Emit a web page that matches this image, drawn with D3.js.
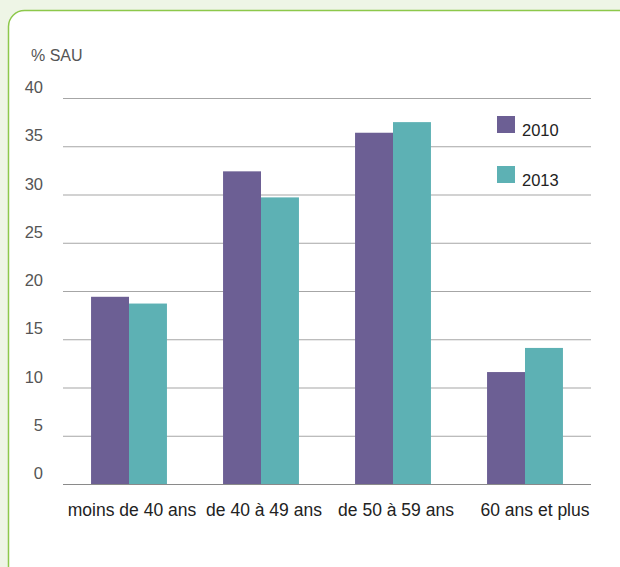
<!DOCTYPE html>
<html>
<head>
<meta charset="utf-8">
<script src="https://cdn.jsdelivr.net/npm/d3@7"></script>
<style>
  body { margin: 0; background: #eef5e6; }
  svg { display: block; font-family: 'Liberation Sans', Arial, sans-serif; }
</style>
</head>
<body>
<div class="chart"></div>
<script>
const categories = ['moins de 40 ans', 'de 40 à 49 ans', 'de 50 à 59 ans', '60 ans et plus'];
const years = ['2010', '2013'];
const values2010 = [19.4, 32.4, 36.4, 11.6];
const values2013 = [18.7, 29.7, 37.5, 14.1];
const yTicks = [0, 5, 10, 15, 20, 25, 30, 35, 40];
const colors = ['#6c5f94', '#5db1b4'];

const width = 620;
const height = 567;
const margin = { top: 98, right: 29, bottom: 83, left: 63 };
const innerW = width - margin.left - margin.right;
const innerH = height - margin.top - margin.bottom;

const svg = d3.select('.chart').append('svg')
    .attr('width', width)
    .attr('height', height);

// white card with green rounded border
svg.append('rect')
    .attr('x', 8.5)
    .attr('y', 10.5)
    .attr('width', 640)
    .attr('height', 600)
    .attr('rx', 16)
    .attr('fill', '#fff')
    .attr('stroke', '#8dc84b')
    .attr('stroke-width', 1.5);

const g = svg.append('g')
    .attr('transform', `translate(${margin.left}, ${margin.top})`);

const x0 = d3.scaleBand().domain(categories).range([0, innerW]).paddingInner(0.425).paddingOuter(0.2125);
const x1 = d3.scaleBand().domain(years).range([0, x0.bandwidth()]);
const y = d3.scaleLinear().domain([0, 40]).range([innerH, 0]);

// grid
g.selectAll('.grid')
    .data(yTicks)
  .enter().append('line')
    .attr('x1', 0)
    .attr('x2', innerW)
    .attr('y1', d => y(d) + 0.5)
    .attr('y2', d => y(d) + 0.5)
    .attr('stroke', d => d === 0 ? '#8a8a8a' : '#a6a6a6')
    .attr('stroke-width', 1.2);

// y labels
g.selectAll('.ylab')
    .data(yTicks)
  .enter().append('text')
    .attr('x', -20)
    .attr('y', d => y(d) - 5)
    .attr('text-anchor', 'end')
    .attr('font-size', 16.5)
    .attr('fill', '#555')
    .text(d => d);

svg.append('text')
    .attr('x', 31)
    .attr('y', 61)
    .attr('font-size', 16)
    .attr('fill', '#555')
    .text('% SAU');

const rows = categories.map((c, i) => ({ cat: c, vals: [values2010[i], values2013[i]] }));

const groups = g.selectAll('.grp')
    .data(rows)
  .enter().append('g')
    .attr('transform', d => `translate(${x0(d.cat)}, 0)`);

groups.selectAll('rect')
    .data(d => d.vals.map((v, k) => ({ year: years[k], v: v, k: k })))
  .enter().append('rect')
    .attr('x', d => x1(d.year))
    .attr('width', x1.bandwidth())
    .attr('y', d => y(d.v))
    .attr('height', d => innerH - y(d.v))
    .attr('fill', d => colors[d.k]);

// x labels, nudged a little right like the original
g.selectAll('.xlab')
    .data(categories)
  .enter().append('text')
    .attr('x', (d, i) => x0(d) + x0.bandwidth() / 2 + (i === 3 ? 10 : 3))
    .attr('y', innerH + 32)
    .attr('text-anchor', 'middle')
    .attr('font-size', 17.5)
    .attr('fill', '#222')
    .text(d => d);

// legend
const legend = svg.selectAll('.leg')
    .data(years)
  .enter().append('g')
    .attr('transform', (d, i) => `translate(497, ${116 + i * 50})`);

legend.append('rect')
    .attr('width', 18)
    .attr('height', 17)
    .attr('fill', (d, i) => colors[i]);

legend.append('text')
    .attr('x', 25)
    .attr('y', 20)
    .attr('font-size', 16.5)
    .attr('fill', '#222')
    .text(d => d);
</script>
</body>
</html>
